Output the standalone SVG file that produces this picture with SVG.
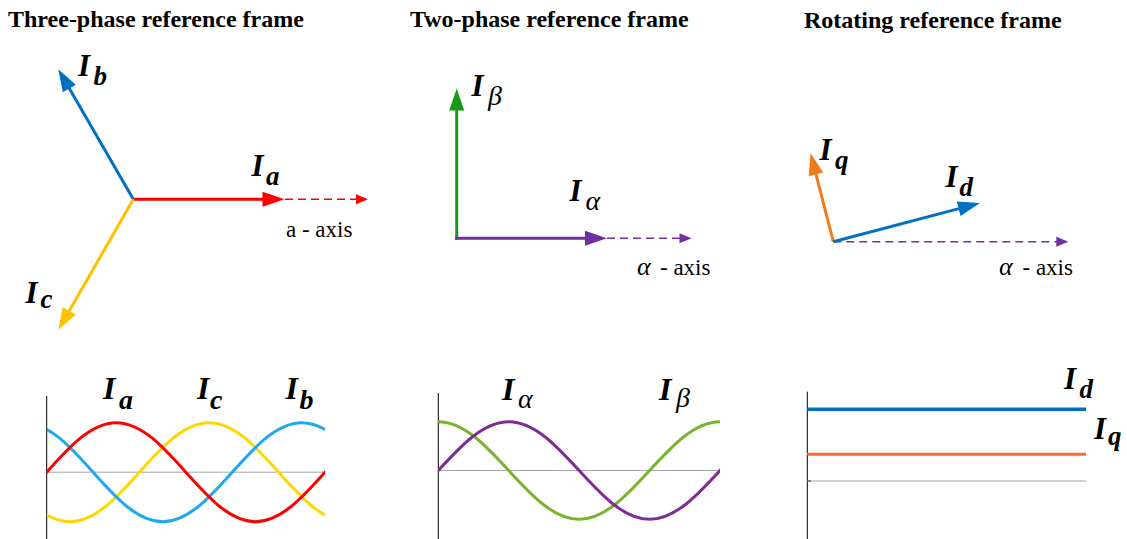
<svg xmlns="http://www.w3.org/2000/svg" width="1127" height="539" viewBox="0 0 1127 539">
<defs>
<style>
.title{font-family:"Liberation Serif","Times New Roman",serif;font-weight:bold;font-size:24px;fill:#000}
.I{font-family:"Liberation Serif","Times New Roman",serif;font-weight:bold;font-style:italic;font-size:31px;fill:#000}
.sub{font-family:"Liberation Serif","Times New Roman",serif;font-weight:bold;font-style:italic;font-size:27px;fill:#000}
.Ib{font-size:32px}
.subb{font-size:28px}
.gk{font-family:"Liberation Serif","Times New Roman",serif;font-style:italic;font-weight:normal;font-size:28px;fill:#000}
.ax{font-family:"Liberation Serif","Times New Roman",serif;font-size:23px;fill:#000}
.axg{font-family:"Liberation Serif","Times New Roman",serif;font-style:italic;font-size:26px;fill:#000}
.vec{stroke-width:3;fill:none}
.dash{stroke-width:1.5;stroke-dasharray:8 5;fill:none}
.wave{stroke-width:3;fill:none}
.zero{stroke:#A6A6A6;stroke-width:1}
.yax{stroke:#000;stroke-width:1}
</style>
<marker id="ah-red" markerUnits="userSpaceOnUse" markerWidth="22" markerHeight="15" refX="12" refY="7.5" orient="auto" overflow="visible"><path d="M0,0 L22,7.5 L0,15 Z" fill="#FF0000"/></marker>
<marker id="ah-blue" markerUnits="userSpaceOnUse" markerWidth="22" markerHeight="15" refX="12" refY="7.5" orient="auto" overflow="visible"><path d="M0,0 L22,7.5 L0,15 Z" fill="#0070C0"/></marker>
<marker id="ah-yellow" markerUnits="userSpaceOnUse" markerWidth="22" markerHeight="15" refX="12" refY="7.5" orient="auto" overflow="visible"><path d="M0,0 L22,7.5 L0,15 Z" fill="#FFC000"/></marker>
<marker id="ah-green" markerUnits="userSpaceOnUse" markerWidth="22" markerHeight="15" refX="12" refY="7.5" orient="auto" overflow="visible"><path d="M0,0 L22,7.5 L0,15 Z" fill="#179B17"/></marker>
<marker id="ah-purple" markerUnits="userSpaceOnUse" markerWidth="22" markerHeight="15" refX="12" refY="7.5" orient="auto" overflow="visible"><path d="M0,0 L22,7.5 L0,15 Z" fill="#7030A0"/></marker>
<marker id="ah-orange" markerUnits="userSpaceOnUse" markerWidth="22" markerHeight="15" refX="12" refY="7.5" orient="auto" overflow="visible"><path d="M0,0 L22,7.5 L0,15 Z" fill="#ED7D1A"/></marker>
<marker id="sh-red" markerUnits="userSpaceOnUse" markerWidth="12" markerHeight="10" refX="6" refY="5" orient="auto" overflow="visible"><path d="M0,0 L12,5 L0,10 Z" fill="#FF0000"/></marker>
<marker id="sh-purple" markerUnits="userSpaceOnUse" markerWidth="12" markerHeight="10" refX="6" refY="5" orient="auto" overflow="visible"><path d="M0,0 L12,5 L0,10 Z" fill="#7030A0"/></marker>
<path id="w3" d="M-278.3,0 c22.69,-25.36 44.39,-49.5 69.575,-49.5 s46.885,24.14 69.575,49.5 s44.39,49.5 69.575,49.5 s46.885,-24.14 69.575,-49.5 s44.39,-49.5 69.575,-49.5 s46.885,24.14 69.575,49.5 s44.39,49.5 69.575,49.5 s46.885,-24.14 69.575,-49.5 s44.39,-49.5 69.575,-49.5 s46.885,24.14 69.575,49.5 s44.39,49.5 69.575,49.5 s46.885,-24.14 69.575,-49.5"/>
<path id="w2" d="M-281.7,0 c22.968,-25 44.937,-48.8 70.425,-48.8 s47.457,23.8 70.425,48.8 s44.937,48.8 70.425,48.8 s47.457,-23.8 70.425,-48.8 s44.937,-48.8 70.425,-48.8 s47.457,23.8 70.425,48.8 s44.937,48.8 70.425,48.8 s47.457,-23.8 70.425,-48.8 s44.937,-48.8 70.425,-48.8 s47.457,23.8 70.425,48.8 s44.937,48.8 70.425,48.8 s47.457,-23.8 70.425,-48.8"/>
<clipPath id="c3"><rect x="46.7" y="380" width="278.3" height="160"/></clipPath>
<clipPath id="c2"><rect x="438.3" y="380" width="281.7" height="160"/></clipPath>
</defs>
<rect width="1127" height="539" fill="#fff"/>

<g id="three-phase">
  <text class="title" x="8" y="26.5">Three-phase reference frame</text>
  <g id="connectors-3ph">
    <line class="dash" x1="285" y1="199.3" x2="362" y2="199.3" stroke="#FF0000" marker-end="url(#sh-red)"/>
    <line class="vec" x1="133.3" y1="199.3" x2="274.5" y2="199.3" stroke="#FF0000" marker-end="url(#ah-red)"/>
    <line class="vec" x1="133.3" y1="199.3" x2="63.3" y2="78" stroke="#0070C0" marker-end="url(#ah-blue)"/>
    <line class="vec" x1="133.3" y1="199.3" x2="63.3" y2="321.3" stroke="#FFC000" marker-end="url(#ah-yellow)"/>
  </g>
  <g id="lbl-Ia"><text class="I" x="251.5" y="175.5">I</text><text class="sub" x="266" y="184.5">a</text></g>
  <g id="lbl-Ib"><text class="I" x="78" y="75.5">I</text><text class="sub" x="93.5" y="85">b</text></g>
  <g id="lbl-Ic"><text class="I" x="25.5" y="302.5">I</text><text class="sub" x="40.5" y="307.5">c</text></g>
  <text class="ax" x="286" y="236.7">a - axis</text>
  <g id="wave-3ph">
    <line class="yax" x1="46.7" y1="396" x2="46.7" y2="539"/>
    <line class="zero" x1="46.7" y1="472.2" x2="325" y2="472.2"/>
    <g clip-path="url(#c3)">
      <use href="#w3" class="wave" stroke="#FFD700" transform="translate(139.47,472.2)"/>
      <use href="#w3" class="wave" stroke="#1EA8F0" transform="translate(-46.07,472.2)"/>
      <use href="#w3" class="wave" stroke="#FF0000" transform="translate(46.7,472.2)"/>
    </g>
    <g id="wlbl-Ia"><text class="I Ib" x="103" y="398.5">I</text><text class="sub subb" x="119" y="408.5">a</text></g>
    <g id="wlbl-Ic"><text class="I Ib" x="197" y="398.5">I</text><text class="sub subb" x="210" y="408.5">c</text></g>
    <g id="wlbl-Ib"><text class="I Ib" x="285.5" y="398.5">I</text><text class="sub subb" x="299.5" y="408.5">b</text></g>
  </g>
</g>

<g id="two-phase">
  <text class="title" x="410" y="26.5">Two-phase reference frame</text>
  <g id="connectors-2ph">
    <line class="dash" x1="607" y1="238.3" x2="685.5" y2="238.3" stroke="#7030A0" marker-end="url(#sh-purple)"/>
    <line class="vec" x1="456.7" y1="239.8" x2="456.7" y2="98.5" stroke="#179B17" marker-end="url(#ah-green)"/>
    <line class="vec" x1="455.2" y1="238.3" x2="597" y2="238.3" stroke="#7030A0" marker-end="url(#ah-purple)"/>
  </g>
  <g id="lbl-Ibeta"><text class="I" x="471.5" y="96">I</text><text class="gk" x="488" y="104.5">β</text></g>
  <g id="lbl-Ialpha"><text class="I" x="569.5" y="201">I</text><text class="gk" x="585.5" y="210">α</text></g>
  <g id="ax-alpha-2"><text class="axg" x="637" y="275">α</text><text class="ax" x="660" y="275">- axis</text></g>
  <g id="wave-2ph">
    <line class="yax" x1="438.3" y1="393" x2="438.3" y2="539"/>
    <line class="zero" x1="438.3" y1="470.5" x2="720" y2="470.5"/>
    <g clip-path="url(#c2)">
      <use href="#w2" class="wave" stroke="#7AB32E" transform="translate(367.875,470.5)"/>
      <use href="#w2" class="wave" stroke="#7E2D96" transform="translate(438.3,470.5)"/>
    </g>
    <g id="wlbl-Ialpha"><text class="I Ib" x="502" y="399.5">I</text><text class="gk" x="518" y="408">α</text></g>
    <g id="wlbl-Ibeta"><text class="I Ib" x="659" y="399.5">I</text><text class="gk" x="676" y="407">β</text></g>
  </g>
</g>

<g id="rotating">
  <text class="title" x="804" y="28.3">Rotating reference frame</text>
  <g id="connectors-rot">
    <line class="dash" x1="833.3" y1="241.7" x2="1062.3" y2="241.7" stroke="#7030A0" marker-end="url(#sh-purple)"/>
    <line class="vec" x1="833.3" y1="241.7" x2="813" y2="162.7" stroke="#ED7D1A" marker-end="url(#ah-orange)"/>
    <line class="vec" x1="833.3" y1="241.7" x2="970.3" y2="205.6" stroke="#0070C0" marker-end="url(#ah-blue)"/>
  </g>
  <g id="lbl-Iq"><text class="I" x="819.5" y="159.5">I</text><text class="sub" x="835" y="169.3">q</text></g>
  <g id="lbl-Id"><text class="I" x="945.5" y="187">I</text><text class="sub" x="959.5" y="196">d</text></g>
  <g id="ax-alpha-rot"><text class="axg" x="999" y="275">α</text><text class="ax" x="1022.5" y="275">- axis</text></g>
  <g id="dc-rot">
    <line class="yax" x1="807.3" y1="391.7" x2="807.3" y2="539"/>
    <line class="zero" x1="807.3" y1="481" x2="1086" y2="481"/>
    <line x1="807.3" y1="481" x2="811" y2="481" stroke="#333" stroke-width="1"/>
    <line x1="807.3" y1="409.3" x2="1086" y2="409.3" stroke="#0070C0" stroke-width="3.5"/>
    <line x1="807.3" y1="454.3" x2="1086" y2="454.3" stroke="#FF6A33" stroke-width="3"/>
    <g id="wlbl-Id"><text class="I" x="1064" y="389">I</text><text class="sub" x="1079.5" y="398">d</text></g>
    <g id="wlbl-Iq"><text class="I" x="1094" y="438.5">I</text><text class="sub" x="1108" y="444.5">q</text></g>
  </g>
</g>
</svg>
